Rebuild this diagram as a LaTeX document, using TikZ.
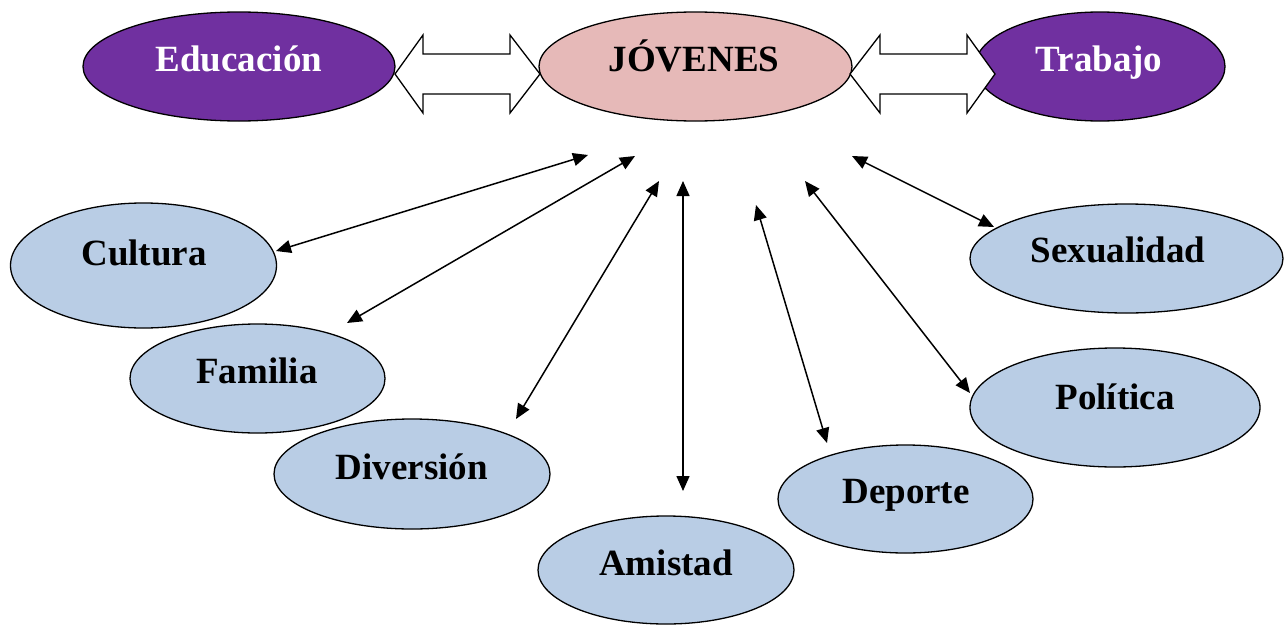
\documentclass[tikz,border=0pt]{standalone}
\usepackage{fontspec}
\setmainfont{Liberation Serif}
\usetikzlibrary{shapes.geometric,arrows.meta}
\definecolor{purp}{HTML}{7030A0}
\definecolor{pinkf}{HTML}{E6B9B8}
\definecolor{bluef}{HTML}{B9CDE5}
\begin{document}
\begin{tikzpicture}[x=1pt,y=-1pt,
  oval/.style={ellipse, draw=black, line width=1.3pt, inner sep=0pt},
  lbl/.style={anchor=base, font=\fontsize{37}{44}\selectfont\bfseries, inner sep=0pt},
  link/.style={line width=1.5pt, {Triangle[length=15pt,width=13pt]}-{Triangle[length=15pt,width=13pt]}},
  dblarrow/.style={draw=black, fill=white, line width=1.3pt, line join=miter}
]
\useasboundingbox (0,0) rectangle (1288,624);

% top row
\node[oval, fill=purp, minimum width=312pt, minimum height=109pt] (edu) at (239,66.5) {};
\node[oval, fill=pinkf, minimum width=313pt, minimum height=109pt] (jov) at (695.5,66.5) {};
\node[oval, fill=purp, minimum width=250pt, minimum height=109pt] (tra) at (1100,66.5) {};

% surrounding ovals
\node[oval, fill=bluef, minimum width=266pt, minimum height=125pt] (cul) at (143.5,265.5) {};
\node[oval, fill=bluef, minimum width=255pt, minimum height=109pt] (fam) at (257.5,378.5) {};
\node[oval, fill=bluef, minimum width=276pt, minimum height=110pt] (div) at (412,474) {};
\node[oval, fill=bluef, minimum width=256pt, minimum height=108pt] (ami) at (666,570) {};
\node[oval, fill=bluef, minimum width=255pt, minimum height=108pt] (dep) at (905.5,499) {};
\node[oval, fill=bluef, minimum width=290pt, minimum height=119pt] (pol) at (1115,407.5) {};
\node[oval, fill=bluef, minimum width=313pt, minimum height=109pt] (sex) at (1126.5,258.5) {};

% labels
\node[lbl, text=white] (tedu) at (239,71) {Educación};
\node[lbl] (tjov) at (694,71) {JÓVENES};
\node[lbl, text=white] (ttra) at (1099,71) {Trabajo};
\node[lbl] (tcul) at (144,265) {Cultura};
\node[lbl] (tfam) at (257,383) {Familia};
\node[lbl] (tdiv) at (412,479) {Diversión};
\node[lbl] (tami) at (666,575) {Amistad};
\node[lbl] (tdep) at (906,503) {Deporte};
\node[lbl] (tpol) at (1115,409) {Política};
\node[lbl] (tsex) at (1118,262) {Sexualidad};

% double block arrows
\draw[dblarrow] (395,74) -- (423,35) -- (423,54) -- (510,54) -- (510,35) -- (540,74)
  -- (510,113) -- (510,94) -- (423,94) -- (423,113) -- cycle;
\draw[dblarrow] (850,74) -- (880,35) -- (880,54) -- (967,54) -- (967,35) -- (995,74)
  -- (967,113) -- (967,94) -- (880,94) -- (880,113) -- cycle;

% connector end points
\coordinate (jcul) at (588,155);  \coordinate (ecul) at (276,251);
\coordinate (jfam) at (635,156);  \coordinate (efam) at (347,323);
\coordinate (jdiv) at (659,181);  \coordinate (ediv) at (516,419);
\coordinate (jami) at (683,181);  \coordinate (eami) at (683,491);
\coordinate (jdep) at (756,205);  \coordinate (edep) at (827,443);
\coordinate (jpol) at (805,181);  \coordinate (epol) at (970,393);
\coordinate (jsex) at (852,156);  \coordinate (esex) at (994,227);

\draw[link] (jcul) -- (ecul);
\draw[link] (jfam) -- (efam);
\draw[link] (jdiv) -- (ediv);
\draw[link] (jami) -- (eami);
\draw[link] (jdep) -- (edep);
\draw[link] (jpol) -- (epol);
\draw[link] (jsex) -- (esex);
\end{tikzpicture}
\end{document}
